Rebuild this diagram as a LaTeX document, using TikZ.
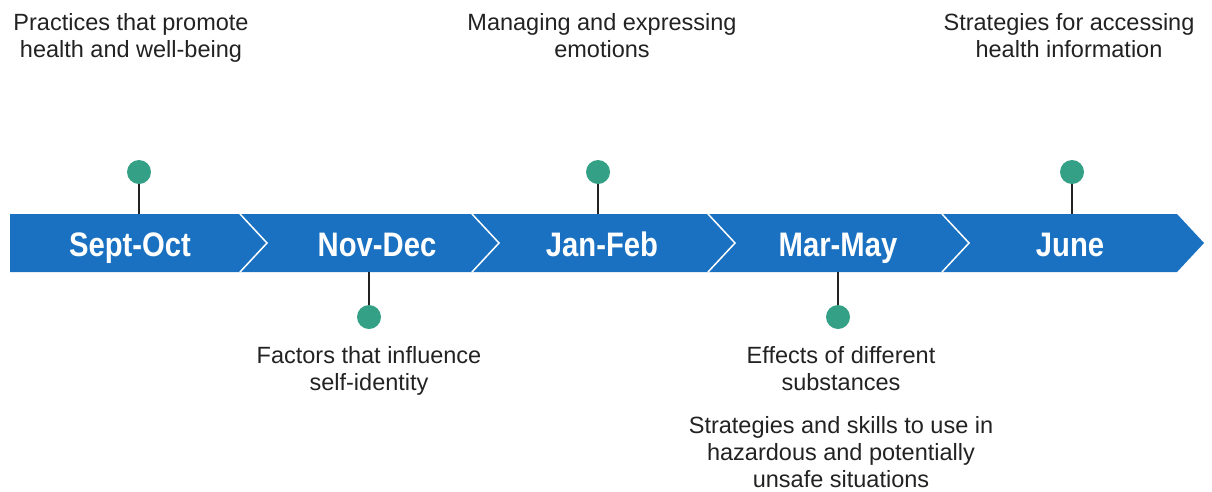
\documentclass[tikz,border=0pt]{standalone}
\usepackage{fontspec}
\setmainfont{Liberation Sans}
\newfontfamily\monthfont[FakeStretch=0.86]{Liberation Sans}
\definecolor{barblue}{HTML}{1A71C1}
\definecolor{dotgreen}{HTML}{34A085}
\definecolor{txtgray}{HTML}{222222}

\begin{document}
\begin{tikzpicture}[x=1pt,y=-1pt,
    month/.style={text=white,font=\monthfont\bfseries\fontsize{34}{36}\selectfont,
                  inner sep=0,anchor=base},
    dot/.style={circle,fill=dotgreen,minimum size=24,inner sep=0},
    stem/.style={draw=txtgray,line width=1.3},
    topic/.style={align=center,text=txtgray,font=\fontsize{23.5}{27}\selectfont,
                  inner sep=0,anchor=north}]
    \useasboundingbox (0,0) rectangle (1212,491);

    % the arrow bar and its chevrons
    \fill[barblue] (10,214) -- (1177,214) -- (1204,243) -- (1177,272) -- (10,272) -- cycle;
    \foreach \x in {240,472,708,942}
      \draw[white,line width=1.5] (\x,214) -- (\x+27,243) -- (\x,272);

    \node[month] (sept) at (130,256) {Sept-Oct};
    \node[month] (nov) at (377,256) {Nov-Dec};
    \node[month] (jan) at (602,256) {Jan-Feb};
    \node[month] (mar) at (838,256) {Mar-May};
    \node[month] (june) at (1070,256) {June};

    % pins above the bar
    \node[dot] (d1) at (139,172) {};
    \node[dot] (d3) at (598,172) {};
    \node[dot] (d5) at (1072,172) {};
    \coordinate (b1) at (139,214);
    \coordinate (b3) at (598,214);
    \coordinate (b5) at (1072,214);
    \draw[stem] (d1) -- (b1);
    \draw[stem] (d3) -- (b3);
    \draw[stem] (d5) -- (b5);

    % pins below the bar
    \node[dot] (d2) at (369,317) {};
    \node[dot] (d4) at (838,317) {};
    \coordinate (b2) at (369,272);
    \coordinate (b4) at (838,272);
    \draw[stem] (d2) -- (b2);
    \draw[stem] (d4) -- (b4);

    \node[topic] (t1) at (131,13) {Practices that promote\\health and well-being};
    \node[topic] (t3) at (602,13) {Managing and expressing\\emotions};
    \node[topic] (t5) at (1069,13) {Strategies for accessing\\health information};
    \node[topic] (t2) at (369,346) {Factors that influence\\self-identity};
    \node[topic] (t4) at (841,346) {Effects of different\\substances};
    \node[topic] (t6) at (841,416) {Strategies and skills to use in\\hazardous and potentially\\unsafe situations};
\end{tikzpicture}
\end{document}
